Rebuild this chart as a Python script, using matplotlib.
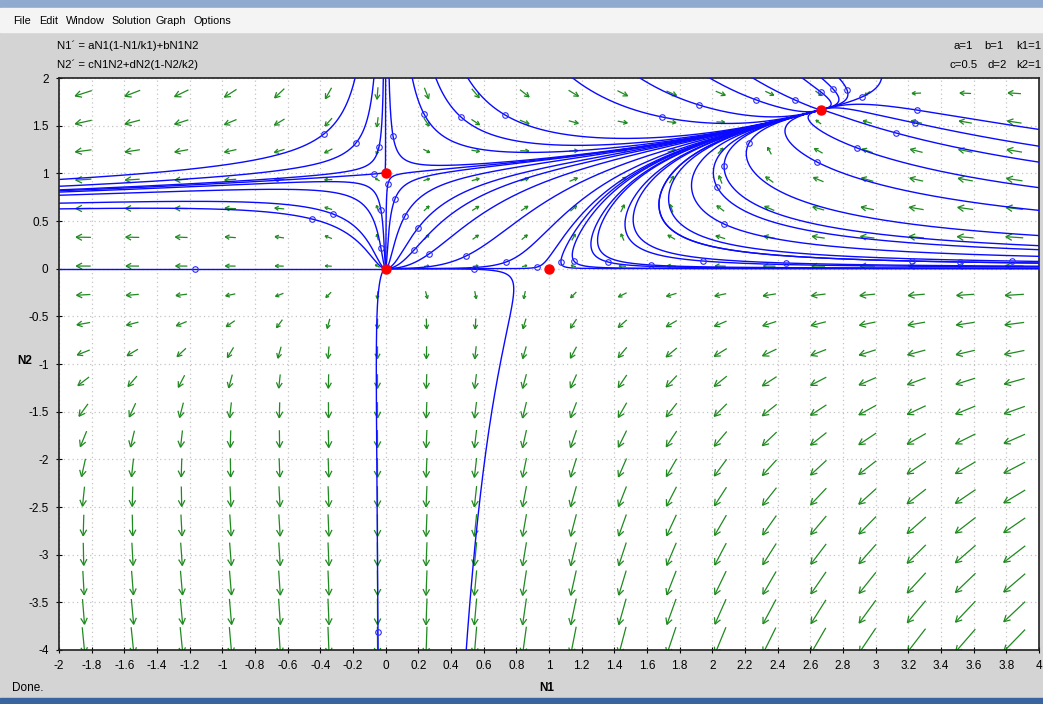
import numpy as np
import matplotlib.pyplot as plt
from matplotlib.collections import LineCollection
from matplotlib.patches import Rectangle

plt.rcParams['font.family'] = ['Liberation Sans', 'DejaVu Sans']

# parameters shown in the window
a, b, k1 = 1.0, 1.0, 1.0
c, d, k2 = 0.5, 2.0, 1.0

# display window
xmin, xmax = -2.0, 4.0
ymin, ymax = -4.0, 2.0

# equilibrium points (red dots)
eq_n1 = [0.0, 0.0, 1.0, 2.667]
eq_n2 = [0.0, 1.0, 0.0, 1.667]

# initial points of the plotted solutions (small circles)
start_n1 = [-0.378, -0.182, -0.041, 0.045, -0.071, 0.014, 0.057, -0.029, 0.118, 0.198,
            -0.322, -0.451, -0.029, 0.174, 0.265, 0.492, 0.737, 0.927, 0.541, 0.235,
            0.731, 0.461, 1.692, 1.918, 1.073, 1.153, 1.361, 1.625, 1.943, 2.270,
            2.506, 2.665, 2.739, 2.825, 2.916, 3.253, 3.241, 3.125, 2.886, 2.641,
            2.225, 2.072, 2.029, 2.072, 2.451, 3.223, 3.516, 3.835, -1.167, -0.047]
start_n2 = [1.413, 1.318, 1.276, 1.392, 0.993, 0.888, 0.731, 0.615, 0.552, 0.426,
            0.573, 0.521, 0.217, 0.196, 0.154, 0.133, 0.070, 0.017, -0.006, 1.622,
            1.612, 1.591, 1.591, 1.717, 0.070, 0.080, 0.070, 0.038, 0.080, 1.769,
            1.769, 1.853, 1.885, 1.874, 1.801, 1.664, 1.528, 1.423, 1.266, 1.119,
            1.318, 1.077, 0.857, 0.468, 0.059, 0.080, 0.070, 0.080, 0.000, -3.810]

# direction field sample positions
field_n1 = np.linspace(-1.85, 3.85, 20)
field_n2 = np.linspace(-3.9, 1.84, 20)

xticks = np.round(np.arange(-2, 4.01, 0.2), 1) + 0.0
yticks = np.arange(-4, 2.01, 0.5)


def rhs(n1, n2):
    return (a * n1 * (1 - n1 / k1) + b * n1 * n2,
            c * n1 * n2 + d * n2 * (1 - n2 / k2))


W, H = 1043, 704
fig = plt.figure(figsize=(W / 100, H / 100), dpi=100, facecolor='#d4d4d4')
ax_l, ax_r, ax_t, ax_b = 59, 1039, 78, 650
ax = fig.add_axes([ax_l / W, 1 - ax_b / H, (ax_r - ax_l) / W, (ax_b - ax_t) / H])
ax.set_xlim(xmin, xmax)
ax.set_ylim(ymin, ymax)
sx = (ax_r - ax_l) / (xmax - xmin)   # pixels per unit
sy = (ax_b - ax_t) / (ymax - ymin)


def trace(x, y, sign):
    pts = [(x, y)]
    t = 0.0
    for _ in range(8000):
        u, v = rhs(x, y)
        sp = np.hypot(u * sx, v * sy)
        if sp < 1e-3:
            break
        dt = sign * min(0.02, 1.2 / sp)
        p1 = (u, v)
        p2 = rhs(x + 0.5 * dt * p1[0], y + 0.5 * dt * p1[1])
        p3 = rhs(x + 0.5 * dt * p2[0], y + 0.5 * dt * p2[1])
        p4 = rhs(x + dt * p3[0], y + dt * p3[1])
        x += dt / 6 * (p1[0] + 2 * p2[0] + 2 * p3[0] + p4[0])
        y += dt / 6 * (p1[1] + 2 * p2[1] + 2 * p3[1] + p4[1])
        pts.append((x, y))
        t += abs(dt)
        if x < xmin - 0.05 or x > xmax + 0.05 or y < ymin - 0.05 or y > ymax + 0.05 or t > 40:
            break
    return pts


# direction field: open V heads, length grows slowly with speed
segs = []
for x0 in field_n1:
    for y0 in field_n2:
        u, v = rhs(x0, y0)
        mag = np.hypot(u, v)
        pu, pv = u * sx, v * sy
        pn = np.hypot(pu, pv)
        if pn == 0:
            continue
        ux, uy = pu / pn, pv / pn
        L = np.clip(14 * (mag / 5) ** 0.33, 5, 34)
        tail = (x0 - ux * L / 2 / sx, y0 - uy * L / 2 / sy)
        tip = (x0 + ux * L / 2 / sx, y0 + uy * L / 2 / sy)
        segs.append([tail, tip])
        hl = min(7.0, 0.45 * L)
        for ang in (np.radians(28), -np.radians(28)):
            hx = -(ux * np.cos(ang) - uy * np.sin(ang))
            hy = -(ux * np.sin(ang) + uy * np.cos(ang))
            segs.append([tip, (tip[0] + hx * hl / sx, tip[1] + hy * hl / sy)])
ax.add_collection(LineCollection(segs, colors='#1f8a1f', linewidths=0.9, zorder=2))

# solution curves, forward and backward from each initial point
for x0, y0 in zip(start_n1, start_n2):
    back = trace(x0, y0, -1)[::-1]
    fwd = trace(x0, y0, 1)
    pts = np.array(back + fwd[1:])
    ax.plot(pts[:, 0], pts[:, 1], color='#0a0aff', lw=1.0, zorder=3)

ax.plot(start_n1, start_n2, 'o', ms=4, mfc='none', mec='#2a2aff', mew=0.8, zorder=4)
ax.plot(eq_n1, eq_n2, 'o', ms=6.5, color='#ff0000', mec='#ff0000', zorder=5)

ax.set_xticks(xticks)
ax.set_xticklabels([f'{v:g}' for v in xticks])
ax.set_yticks(yticks)
ax.set_yticklabels([f'{v:g}' for v in yticks])
ax.tick_params(direction='inout', length=5, width=0.8, labelsize=8.5, pad=5)
ax.grid(True, color='#c4c4c4', linestyle=(0, (1, 2.5)), linewidth=0.9)
ax.set_axisbelow(True)
for s in ax.spines.values():
    s.set_linewidth(1.2)
    s.set_color('#202020')


def fpos(x, y):
    return x / W, 1 - y / H


# window chrome
fig.patches.append(Rectangle((0, 1 - 8 / H), 1, 8 / H, transform=fig.transFigure,
                             color='#8fa9cf', zorder=0))
fig.patches.append(Rectangle((0, 1 - 32 / H), 1, 24 / H, transform=fig.transFigure,
                             color='#f4f4f4', zorder=0))
fig.patches.append(Rectangle((0, 0), 1, 6 / H, transform=fig.transFigure,
                             color='#3a64a0', zorder=0))

menu = ['File', 'Edit', 'Window', 'Solution', 'Graph', 'Options']
menu_x = [13, 39, 66, 111, 156, 193]
for lbl, mx in zip(menu, menu_x):
    fig.text(*fpos(mx, 21), lbl, fontsize=7.8, va='center', ha='left')

fig.text(*fpos(57, 46), 'N1\u00b4 = aN1(1-N1/k1)+bN1N2', fontsize=8.2, va='center')
fig.text(*fpos(57, 65), 'N2\u00b4 = cN1N2+dN2(1-N2/k2)', fontsize=8.2, va='center')
fig.text(*fpos(954, 46), f'a={a:g}', fontsize=8.2, va='center')
fig.text(*fpos(984, 46), f'b={b:g}', fontsize=8.2, va='center')
fig.text(*fpos(1041, 46), f'k1={k1:g}', fontsize=8.2, va='center', ha='right')
fig.text(*fpos(950, 65), f'c={c:g}', fontsize=8.2, va='center')
fig.text(*fpos(987, 65), f'd={d:g}', fontsize=8.2, va='center')
fig.text(*fpos(1041, 65), f'k2={k2:g}', fontsize=8.2, va='center', ha='right')

fig.text(*fpos(25, 361), 'N2', fontsize=8.5, fontweight='bold', va='center', ha='center')
fig.text(*fpos(547, 688), 'N1', fontsize=8.5, fontweight='bold', va='center', ha='center')
fig.text(*fpos(12, 688), 'Done.', fontsize=8.5, va='center')

fig.savefig('out.png', dpi=100, facecolor=fig.get_facecolor())
